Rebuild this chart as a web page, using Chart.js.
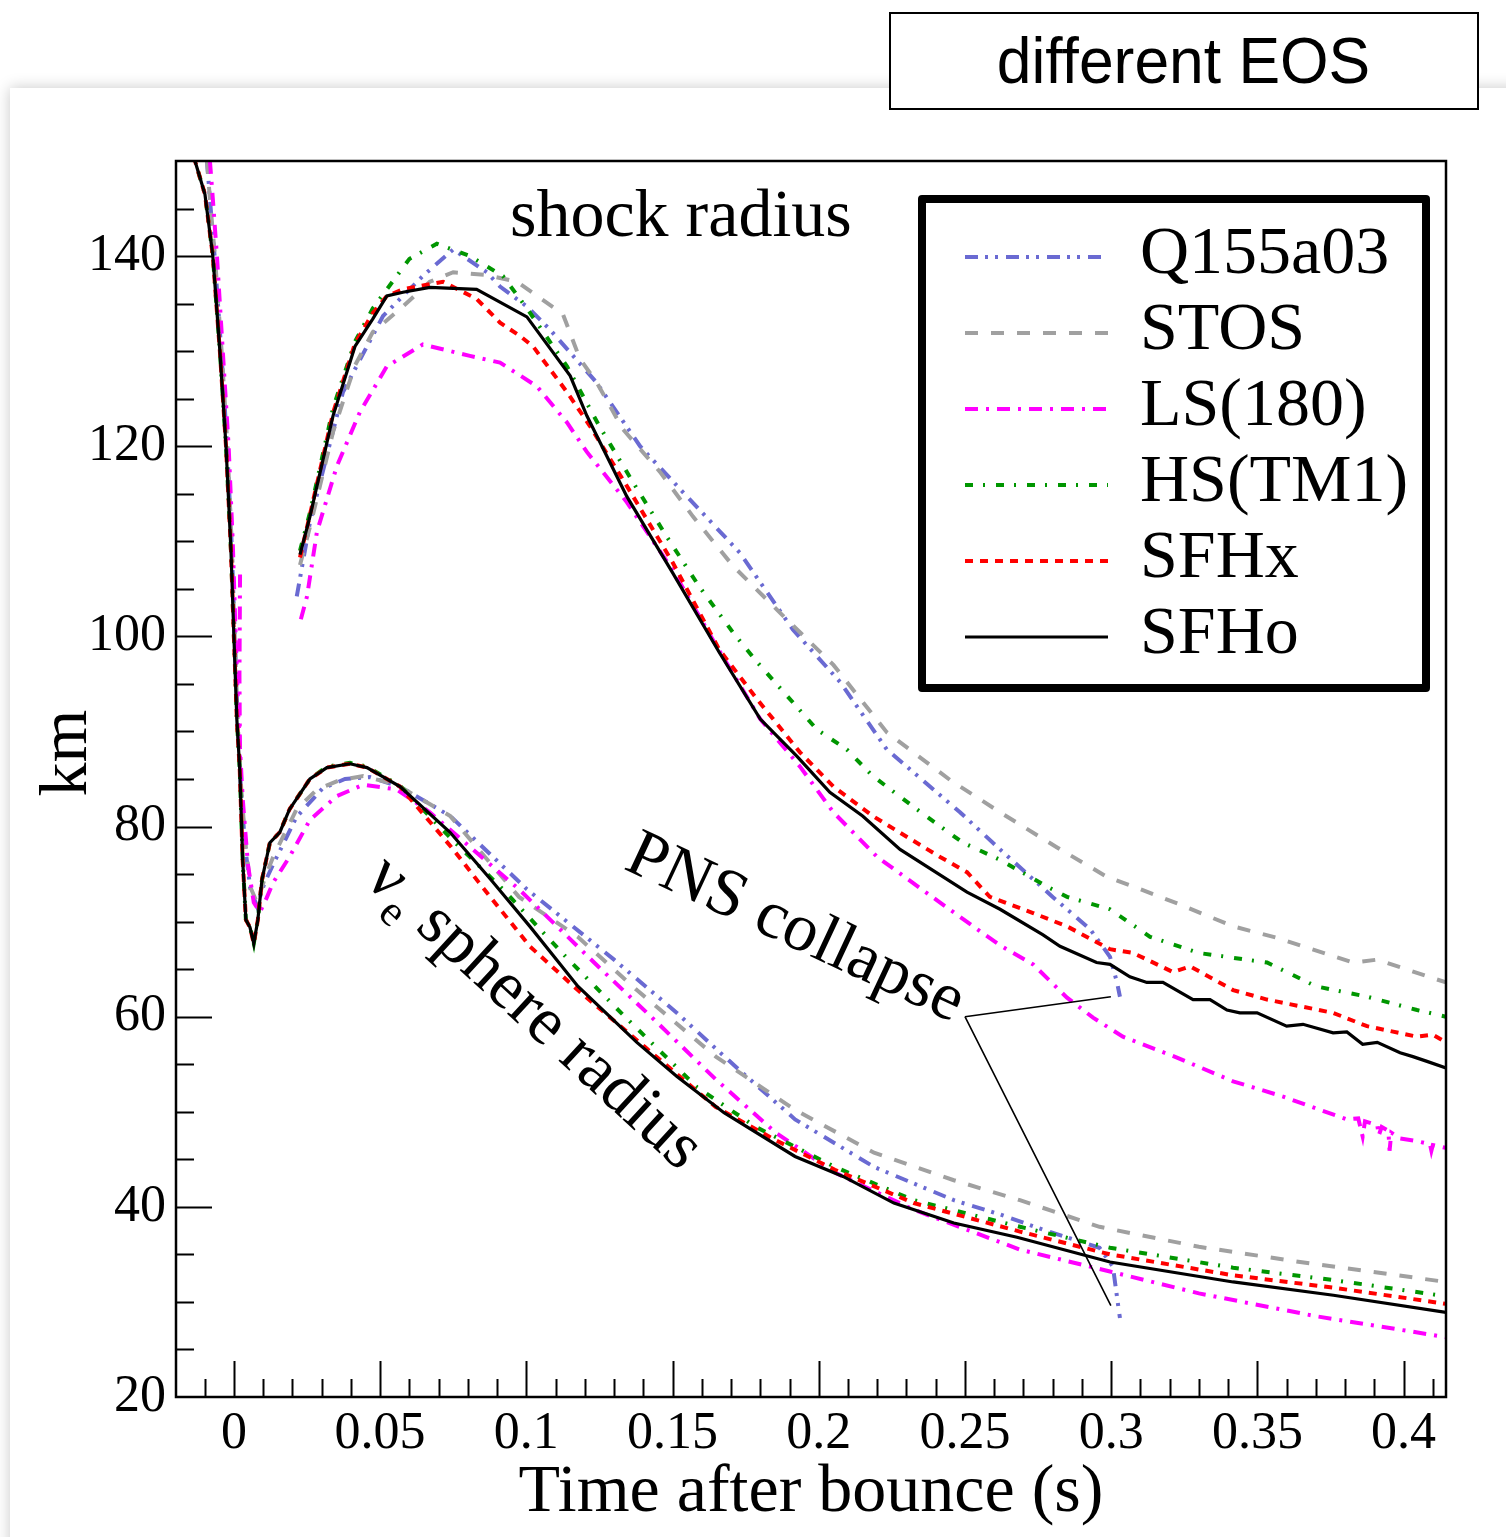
<!DOCTYPE html>
<html>
<head>
<meta charset="utf-8">
<script src="https://cdn.jsdelivr.net/npm/chart.js@4.4.1/dist/chart.umd.min.js"></script>
<style>
  html, body { margin: 0; padding: 0; background: #fff; }
  body { width: 1506px; height: 1537px; position: relative; overflow: hidden; }
  #sheet { position: absolute; left: 10px; top: 88px; width: 1530px; height: 1480px; background: #fff; box-shadow: 0 0 14px rgba(0, 0, 0, 0.22); }
  #plot { position: absolute; left: 0; top: 0; }
  #eosTag { position: absolute; left: 889px; top: 12px; width: 586px; height: 94px; border: 2px solid #000; background: #fff; text-align: center; }
  #eosTag span { display: inline-block; font: 65px "Liberation Sans", Arial, sans-serif; line-height: 94px; transform: scaleX(0.96); }
</style>
</head>
<body>
<div id="sheet"></div>
<canvas id="plot" width="1506" height="1537"></canvas>
<div id="eosTag"><span>different EOS</span></div>
<script>
const SERIF = "'Liberation Serif', 'Times New Roman', serif";

// axis ticks
const xTickValues = [0, 0.05, 0.1, 0.15, 0.2, 0.25, 0.3, 0.35, 0.4];
const xTickLabels = ["0", "0.05", "0.1", "0.15", "0.2", "0.25", "0.3", "0.35", "0.4"];
const yTickValues = [20, 40, 60, 80, 100, 120, 140];
const yTickLabels = ["20", "40", "60", "80", "100", "120", "140"];

const eosNames = ["Q155a03", "STOS", "LS(180)", "HS(TM1)", "SFHx", "SFHo"];

// [time after bounce (s), radius (km)]
const shockQ155a03 = [[0.0215,104.2],[0.026,112],[0.0373,125.7],[0.051,133.7],[0.0646,137.9],[0.075,140.7],[0.0865,138.3],[0.091,136.8],[0.1002,134.7],[0.108,132.3],[0.124,126.7],[0.1389,120],[0.155,114.7],[0.173,108.8],[0.1912,100.7],[0.2073,95.2],[0.2233,88.1],[0.2483,81.5],[0.262,77.6],[0.28,72.6],[0.2928,69.2],[0.2996,66.3],[0.302,63.6],[0.303,62.1]];
const sphereQ155a03 = [[-0.0092,150],[-0.0082,146],[-0.0066,140],[-0.0043,130],[-0.0023,120],[-0.0008,110],[0.0003,100],[0.0013,91],[0.0024,84],[0.0038,78],[0.0056,73.5],[0.0079,71.6],[0.0104,74],[0.0134,76],[0.0214,81],[0.0303,84],[0.038,85],[0.0465,85.2],[0.0568,84.2],[0.074,81.1],[0.1002,73.4],[0.13,66],[0.1515,60.4],[0.1717,54.7],[0.1919,49.2],[0.2189,44.2],[0.2462,40.7],[0.262,39.2],[0.2767,37.6],[0.296,35.7],[0.3006,33.7],[0.302,30.5],[0.303,28.3]];

const shockSTOS = [[0.0226,107.5],[0.026,111.5],[0.0339,121.5],[0.0414,128.5],[0.0475,132],[0.0578,134.7],[0.067,137.3],[0.075,138.3],[0.0865,138],[0.0968,137.3],[0.1125,133.9],[0.1183,129.2],[0.1241,126.7],[0.133,121.8],[0.1457,117.3],[0.157,112.6],[0.1707,107.4],[0.1867,102.5],[0.205,97],[0.2233,89.9],[0.2449,84.9],[0.262,81.5],[0.2815,77.8],[0.2986,74.7],[0.3075,73.7],[0.3235,71.8],[0.3417,69.5],[0.3567,68.3],[0.3827,65.7],[0.391,66],[0.4145,63.6]];
const sphereSTOS = [[-0.0092,150],[-0.0082,146],[-0.0065,140],[-0.0042,130],[-0.0022,120],[-0.0008,110],[0.0003,100],[0.0013,91],[0.0025,84],[0.004,78],[0.0058,73.5],[0.0079,72],[0.0105,74.5],[0.0134,76.8],[0.0214,81.8],[0.0284,83.9],[0.0363,84.9],[0.0442,85.3],[0.0534,84.6],[0.0568,84.2],[0.074,81.1],[0.0975,72.6],[0.1176,68.4],[0.1378,62.8],[0.1648,55.8],[0.1919,50.2],[0.2189,45.7],[0.2462,42.8],[0.2688,40.7],[0.296,37.9],[0.33,35.8],[0.3646,34.2],[0.4145,32.1]];

const shockLS180 = [[0.0229,101.8],[0.025,104.2],[0.0284,111],[0.0352,117.9],[0.0431,123.6],[0.0523,128.4],[0.0646,130.7],[0.0807,129.5],[0.091,128.8],[0.1036,126.3],[0.1139,122.5],[0.1207,119.4],[0.1344,114.1],[0.15,107],[0.165,99],[0.18,91.3],[0.1936,86.3],[0.205,81.5],[0.22,76.8],[0.237,73],[0.256,68.8],[0.262,67.5],[0.2733,65.5],[0.2849,62],[0.2938,59.9],[0.304,57.9],[0.3225,55.7],[0.3417,53.2],[0.3588,51.6],[0.3714,50.2],[0.3806,49.2],[0.3845,49.3],[0.386,47.4],[0.3868,49],[0.391,48.6],[0.3915,47.5],[0.3925,48.4],[0.3948,48],[0.3952,45.9],[0.3958,47.8],[0.3988,47.2],[0.4046,46.9],[0.409,46.6],[0.4095,45.9],[0.41,46.5],[0.4145,46.2]];
const sphereLS180 = [[-0.0082,150],[-0.0072,146],[-0.0058,140],[-0.0038,130],[-0.0018,120],[-0.0004,110],[0.0006,100],[0.0016,91],[0.003,83],[0.0048,76],[0.0068,72],[0.0089,71],[0.0112,72.5],[0.0134,74.1],[0.019,76.8],[0.026,80.7],[0.0352,83.2],[0.0442,84.4],[0.0557,83.9],[0.067,81.5],[0.0975,73.4],[0.1245,65.3],[0.1447,59.4],[0.1648,53.4],[0.1853,47.8],[0.2055,43.6],[0.2325,39.7],[0.2688,35.5],[0.2996,33.2],[0.33,30.9],[0.37,28.5],[0.4145,26.3]];
const bounceLS180 = [[0.0021,106.5],[0.0019,96],[0.0021,86]];

const shockTM1 = [[0.0226,109],[0.026,113],[0.0339,124],[0.0414,131],[0.0475,134.5],[0.0523,136.5],[0.06,139.7],[0.0694,141.3],[0.0807,140],[0.092,137.9],[0.1002,134.5],[0.1139,128.4],[0.125,122.1],[0.1365,116.2],[0.148,110.5],[0.159,105.3],[0.1707,100.4],[0.1789,97.3],[0.1994,90.2],[0.2096,88.1],[0.2185,85.3],[0.2336,81.8],[0.2493,78.3],[0.262,76.5],[0.278,73.7],[0.2849,72.6],[0.2996,71.3],[0.3133,68.4],[0.33,66.7],[0.3533,65.7],[0.37,63.2],[0.3875,62.1],[0.4046,60.7],[0.4145,60]];
const sphereTM1 = [[-0.0145,152],[-0.0133,150],[-0.0099,146.5],[-0.0072,140],[-0.0048,130],[-0.0027,120],[-0.001,109],[0,100],[0.001,91.3],[0.002,86],[0.003,76.5],[0.0041,70.2],[0.0055,69.4],[0.0068,67.7],[0.0082,70.2],[0.0096,74.4],[0.0123,78.3],[0.0157,79.4],[0.019,81.8],[0.026,85],[0.0318,86.3],[0.0397,86.7],[0.0455,86.3],[0.0568,84.3],[0.075,78.5],[0.092,73.4],[0.1135,66.3],[0.1324,60.4],[0.1583,52.6],[0.1785,48.4],[0.2055,44.2],[0.2325,40.7],[0.2688,37.9],[0.2996,35.7],[0.3417,33.6],[0.376,32.3],[0.4145,30.6]];

const shockSFHx = [[0.0226,108.3],[0.026,112.8],[0.0339,123.5],[0.0414,130.8],[0.0475,134],[0.0523,135.8],[0.0578,136.5],[0.0715,137.3],[0.083,135.5],[0.091,133],[0.0978,131.6],[0.1023,130.5],[0.1139,125.7],[0.1218,122.1],[0.1344,115.8],[0.15,107.8],[0.166,98.6],[0.1789,93.4],[0.1936,87.8],[0.205,84.2],[0.2185,81.1],[0.2302,78.9],[0.2415,76.8],[0.2507,75.2],[0.2585,72.6],[0.2733,70.9],[0.2849,69.5],[0.2996,67.1],[0.3075,66.7],[0.3211,64.7],[0.327,65.3],[0.3417,62.8],[0.3533,61.8],[0.3759,60.4],[0.3875,59],[0.4046,57.9],[0.41,58.1],[0.4145,57.3]];
const sphereSFHx = [[-0.0145,152],[-0.0133,150],[-0.0099,146.5],[-0.0072,140],[-0.0048,130],[-0.0027,120],[-0.001,109],[0,100],[0.001,91.3],[0.002,86],[0.003,76.5],[0.0041,70.2],[0.0055,69.4],[0.0068,67.7],[0.0082,70.2],[0.0096,74.4],[0.0123,78.3],[0.0157,79.4],[0.019,81.8],[0.026,85],[0.0318,86.2],[0.0397,86.6],[0.0455,86.2],[0.0568,84.2],[0.075,77.6],[0.0838,74.1],[0.1012,67.4],[0.1176,62.8],[0.1406,56.8],[0.1648,50.5],[0.1853,47],[0.2055,43.9],[0.2325,40.4],[0.2688,37.4],[0.2996,35],[0.3417,32.8],[0.376,31.5],[0.4145,29.8]];

const shockSFHo = [[0.0226,108.6],[0.026,112.6],[0.0339,123.2],[0.0414,130.5],[0.0475,133.4],[0.0523,135.8],[0.0578,136.2],[0.067,136.7],[0.083,136.5],[0.1002,133.6],[0.115,127.4],[0.1207,123.2],[0.1344,114.7],[0.15,106.7],[0.166,98.3],[0.18,91.3],[0.1925,87.4],[0.2038,83.6],[0.215,81.1],[0.2278,77.6],[0.2507,73.1],[0.262,71.3],[0.2767,68.6],[0.2825,67.4],[0.295,65.7],[0.2996,65.5],[0.3064,64.2],[0.3122,63.6],[0.3177,63.6],[0.328,61.8],[0.3338,61.8],[0.3396,60.7],[0.344,60.4],[0.3499,60.4],[0.36,59],[0.3656,59.2],[0.3759,58.3],[0.3806,58.4],[0.386,57.1],[0.391,57.3],[0.3988,56.2],[0.4032,55.8],[0.408,55.3],[0.4145,54.6]];
const sphereSFHo = [[-0.0145,152],[-0.0133,150],[-0.0099,146.5],[-0.0072,140],[-0.0048,130],[-0.0027,120],[-0.001,109],[0,100],[0.001,91.3],[0.002,86],[0.003,76.5],[0.0041,70.2],[0.0055,69.4],[0.0068,67.7],[0.0082,70.2],[0.0096,74.4],[0.0123,78.3],[0.0157,79.4],[0.019,81.8],[0.026,85],[0.0318,86.2],[0.0397,86.6],[0.0455,86.2],[0.0568,84.2],[0.0739,79.4],[0.0879,74.4],[0.1012,69.5],[0.1176,63.2],[0.1378,57.3],[0.1515,53.7],[0.1676,49.9],[0.1919,45.3],[0.2083,43.2],[0.2257,40.4],[0.2462,38.3],[0.2678,36.8],[0.2996,34.2],[0.3417,32.1],[0.376,30.7],[0.4145,28.9]];

// pointer from the "PNS collapse" label to the end of the Q155a03 run
const pnsPointer = [[0.25, 60.0], [0.2999, 62.1], [0.2999, 29.6]];

const styles = {
  "Q155a03": { color: "#6a6ad2", dash: [13, 7, 3, 7, 3, 8], width: 4, order: 5 },
  "STOS":    { color: "#a0a0a0", dash: [13, 13], width: 4, order: 4 },
  "LS(180)": { color: "#ff00ff", dash: [13, 8, 3, 8], width: 4, order: 3 },
  "HS(TM1)": { color: "#009600", dash: [8, 10, 2, 11], width: 4, order: 2 },
  "SFHx":    { color: "#ff0000", dash: [8, 7], width: 4, order: 1 },
  "SFHo":    { color: "#000000", dash: [], width: 3.2, order: 0 },
};

const curves = [
  ["Q155a03", shockQ155a03], ["Q155a03", sphereQ155a03],
  ["STOS", shockSTOS], ["STOS", sphereSTOS],
  ["LS(180)", shockLS180], ["LS(180)", sphereLS180], ["LS(180)", bounceLS180],
  ["HS(TM1)", shockTM1], ["HS(TM1)", sphereTM1],
  ["SFHx", shockSFHx], ["SFHx", sphereSFHx],
  ["SFHo", shockSFHo], ["SFHo", sphereSFHo],
];

const datasets = curves.map(([name, pts]) => {
  const s = styles[name];
  return {
    label: name,
    data: pts.map(([t, r]) => ({ x: t, y: r })),
    borderColor: s.color,
    borderDash: s.dash,
    borderWidth: s.width,
    pointRadius: 0,
    tension: 0,
    fill: false,
    order: s.order,
  };
});

// frame, inward ticks, labels and legend
const decorations = {
  id: "decorations",
  afterDatasetsDraw(chart) {
    const { ctx, chartArea: a, scales } = chart;
    const xs = scales.x, ys = scales.y;
    ctx.save();
    ctx.strokeStyle = "#000";
    ctx.lineWidth = 2.5;
    ctx.strokeRect(a.left, a.top, a.right - a.left, a.bottom - a.top);

    ctx.lineWidth = 2;
    ctx.beginPath();
    for (let k = -1; k <= 41; k++) {
      const v = k / 100;
      const px = Math.round(xs.getPixelForValue(v)) + 0.5;
      const len = k % 5 === 0 ? 36 : 18;
      ctx.moveTo(px, a.bottom);
      ctx.lineTo(px, a.bottom - len);
    }
    for (let v = 25; v < 150; v += 5) {
      const py = Math.round(ys.getPixelForValue(v)) + 0.5;
      const len = v % 20 === 0 ? 36 : 18;
      ctx.moveTo(a.left, py);
      ctx.lineTo(a.left + len, py);
    }
    ctx.stroke();

    // pointer lines
    ctx.lineWidth = 1.6;
    ctx.beginPath();
    const p0 = pnsPointer[0];
    for (let i = 1; i < pnsPointer.length; i++) {
      ctx.moveTo(xs.getPixelForValue(p0[0]), ys.getPixelForValue(p0[1]));
      ctx.lineTo(xs.getPixelForValue(pnsPointer[i][0]), ys.getPixelForValue(pnsPointer[i][1]));
    }
    ctx.stroke();

    ctx.fillStyle = "#000";
    ctx.font = "68px " + SERIF;
    ctx.textBaseline = "alphabetic";
    ctx.textAlign = "left";
    ctx.fillText("shock radius", xs.getPixelForValue(0.0944), ys.getPixelForValue(142.1));

    // PNS collapse
    ctx.save();
    ctx.translate(xs.getPixelForValue(0.1328), ys.getPixelForValue(75.6));
    ctx.rotate(25 * Math.PI / 180);
    ctx.fillText("PNS collapse", 0, 0);
    ctx.restore();

    // nu_e sphere radius
    ctx.save();
    ctx.translate(xs.getPixelForValue(0.0442), ys.getPixelForValue(74.2));
    ctx.rotate(42.5 * Math.PI / 180);
    ctx.fillText("\u03bd", 0, 0);
    let w = ctx.measureText("\u03bd").width;
    ctx.font = "44px " + SERIF;
    ctx.fillText("e", w + 2, 16);
    w += 2 + ctx.measureText("e").width;
    ctx.font = "68px " + SERIF;
    ctx.fillText(" sphere radius", w, 0);
    ctx.restore();

    // km
    ctx.save();
    ctx.translate(86, 753);
    ctx.rotate(-Math.PI / 2);
    ctx.textAlign = "center";
    ctx.fillText("km", 0, 0);
    ctx.restore();

    // legend
    const lx = a.right - 20 - 504, ly = a.top + 38;
    ctx.lineWidth = 8;
    ctx.lineJoin = "round";
    ctx.strokeRect(lx, ly, 504, 489);
    ctx.lineJoin = "miter";
    eosNames.forEach((name, i) => {
      const s = styles[name];
      const y = ly + 58 + i * 76;
      ctx.strokeStyle = s.color;
      ctx.lineWidth = s.width;
      ctx.setLineDash(s.dash);
      ctx.beginPath();
      ctx.moveTo(lx + 43, y);
      ctx.lineTo(lx + 186, y);
      ctx.stroke();
      ctx.setLineDash([]);
      ctx.fillStyle = "#000";
      ctx.textBaseline = "middle";
      ctx.font = "68px " + SERIF;
      ctx.fillText(name, lx + 218, y - 2);
    });
    ctx.restore();
  },
};

new Chart(document.getElementById("plot").getContext("2d"), {
  type: "line",
  data: { datasets },
  options: {
    responsive: false,
    animation: false,
    events: [],
    layout: { padding: { left: 0, top: 161, right: 60, bottom: 0 } },
    plugins: { legend: { display: false }, tooltip: { enabled: false } },
    scales: {
      x: {
        type: "linear",
        min: -0.0198,
        max: 0.4145,
        afterBuildTicks: (scale) => { scale.ticks = xTickValues.map((v) => ({ value: v })); },
        afterFit: (scale) => { scale.height = 140; },
        grid: { display: false, drawTicks: false, tickLength: 0 },
        border: { display: false },
        ticks: {
          autoSkip: false,
          maxRotation: 0,
          padding: 6,
          color: "#000",
          font: { family: SERIF, size: 52 },
          callback: (v, i) => xTickLabels[i],
        },
        title: {
          display: true,
          text: "Time after bounce (s)",
          color: "#000",
          font: { family: SERIF, size: 68 },
          padding: { top: 0, bottom: 3 },
        },
      },
      y: {
        type: "linear",
        min: 20,
        max: 150,
        afterBuildTicks: (scale) => { scale.ticks = yTickValues.map((v) => ({ value: v })); },
        afterFit: (scale) => { scale.width = 176; },
        grid: { display: false, drawTicks: false, tickLength: 0 },
        border: { display: false },
        ticks: {
          autoSkip: false,
          padding: 10,
          color: "#000",
          font: { family: SERIF, size: 52 },
          callback: (v, i) => yTickLabels[i],
        },
      },
    },
  },
  plugins: [decorations],
});
</script>
</body>
</html>
